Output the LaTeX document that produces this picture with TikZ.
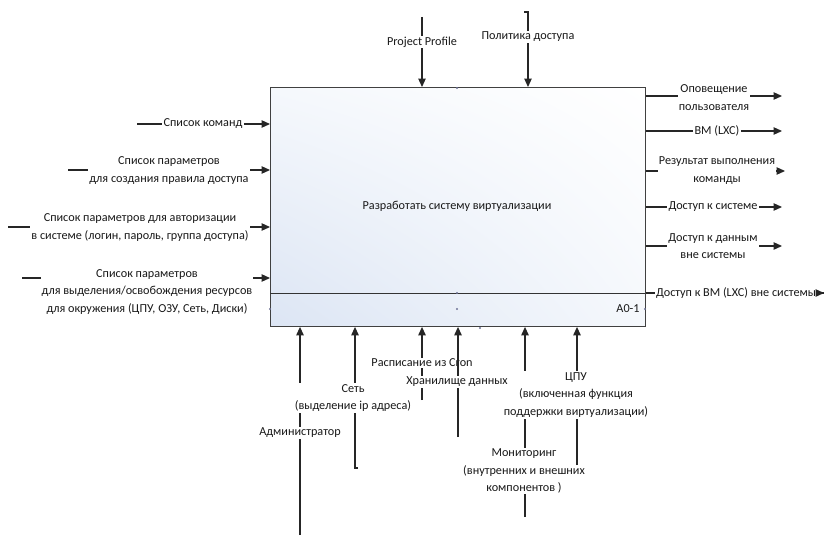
\documentclass[tikz,border=0pt]{standalone}
\usepackage{fontspec}
\setmainfont{Carlito}
\usetikzlibrary{arrows.meta,shadings}
\definecolor{boxblue}{RGB}{220,229,244}
\definecolor{boxmid}{RGB}{245,248,252}
\definecolor{dotc}{RGB}{110,115,150}
\begin{document}
\begin{tikzpicture}[x=1pt,y=-1pt,
  conn/.style={line width=1.2pt, draw=black!85},
  arr/.style={conn,-{Triangle[length=8.5pt,width=7.5pt]}},
  lbl/.style={fill=white, inner sep=1.2pt, align=center, text=black!90, font=\fontsize{12.2}{17.5}\selectfont},
  dotm/.style={circle, fill=dotc, inner sep=0pt, minimum size=2.4pt}]
\useasboundingbox (0,0) rectangle (826,535);
% main box
\node[draw=black!75, line width=0.9pt, anchor=north west, inner sep=0pt,
  minimum width=375pt, minimum height=239pt,
  lower left=boxblue, upper left=boxmid, upper right=white, lower right=boxmid] (box) at (270,87) {};
\coordinate (sl) at (270,293);
\coordinate (sr) at (645,293);
\draw[black!80, line width=0.9pt] (sl) -- (sr);
\node[lbl, fill=none] (title) at (457,206) {Разработать систему виртуализации};
\node[lbl, fill=none, anchor=east] (num) at (641,309) {A0-1};
\node[dotm] (d1) at (457,88) {};
\node[dotm] (d2) at (457,293) {};
\node[dotm] (d3) at (457,309) {};
\node[dotm] (d4) at (270,309) {};
\node[dotm] (d5) at (645,309) {};
\node[dotm] (d6) at (480,328) {};
% inputs
\coordinate (i1) at (137,124);
\draw[arr] (i1) -- (i1 -| box.west);
\node[lbl] (li1) at (203,124) {Список команд};
\coordinate (i2) at (68,170);
\draw[arr] (i2) -- (i2 -| box.west);
\node[lbl] (li2) at (169,170.5) {Список параметров\\для создания правила доступа};
\coordinate (i3) at (8,227);
\draw[arr] (i3) -- (i3 -| box.west);
\node[lbl] (li3) at (140,227.5) {Список параметров для авторизации\\в системе (логин, пароль, группа доступа)};
\coordinate (i4) at (22,278);
\draw[arr] (i4) -- (i4 -| box.west);
\node[lbl] (li4) at (147,292) {Список параметров\\для выделения/освобождения ресурсов\\для окружения (ЦПУ, ОЗУ, Сеть, Диски)};
% outputs
\coordinate (o1) at (782,96);
\draw[arr] (o1 -| box.east) -- (o1);
\node[lbl] (lo1) at (714,97.5) {Оповещение\\пользователя};
\coordinate (o2) at (782,131);
\draw[arr] (o2 -| box.east) -- (o2);
\node[lbl] (lo2) at (717,131) {ВМ (LXC)};
\coordinate (o3) at (785,171);
\draw[arr] (o3 -| box.east) -- (o3);
\node[lbl] (lo3) at (717,170.5) {Результат выполнения\\команды};
\coordinate (o4) at (782,207);
\draw[arr] (o4 -| box.east) -- (o4);
\node[lbl] (lo4) at (713,207) {Доступ к системе};
\coordinate (o5) at (782,246);
\draw[arr] (o5 -| box.east) -- (o5);
\node[lbl] (lo5) at (713,246) {Доступ к данным\\вне системы};
\coordinate (o6) at (824,293);
\draw[conn] (o6 -| box.east) -- (o6);
\node[lbl] (lo6) at (736,293) {Доступ к ВМ (LXC) вне системы};
\draw[arr] (o6 -| lo6.east) -- (o6);
% controls
\coordinate (t1) at (422,17);
\draw[arr] (t1) -- (t1 |- box.north);
\node[lbl] (lt1) at (422,42) {Project Profile};
\coordinate (t2h) at (524,12);
\coordinate (t2) at (528,12);
\draw[arr] (t2h) -- (t2) -- (t2 |- box.north);
\node[lbl] (lt2) at (528,37) {Политика доступа};
% mechanisms
\coordinate (b1) at (300,535);
\draw[arr] (b1) -- (b1 |- box.south);
\node[lbl] (lb1) at (300,433) {Администратор};
\coordinate (b2h) at (358,468);
\coordinate (b2) at (355,468);
\draw[arr] (b2h) -- (b2) -- (b2 |- box.south);
\node[lbl] (lb2) at (353,398) {Сеть\\(выделение ip адреса)};
\coordinate (b3) at (422,400);
\draw[arr] (b3) -- (b3 |- box.south);
\node[lbl] (lb3) at (422,363) {Расписание из Cron};
\coordinate (b4) at (458,437);
\draw[arr] (b4) -- (b4 |- box.south);
\coordinate (b5) at (525,517);
\draw[arr] (b5) -- (b5 |- box.south);
\node[lbl] (lb5) at (524,471) {Мониторинг\\(внутренних и внешних\\компонентов )};
\coordinate (b6) at (577,465);
\draw[arr] (b6) -- (b6 |- box.south);
\node[lbl] (lb6) at (576,395) {ЦПУ\\(включенная функция\\поддержки виртуализации)};
\node[lbl] (lb4) at (457,382) {Хранилище данных};
\end{tikzpicture}
\end{document}
